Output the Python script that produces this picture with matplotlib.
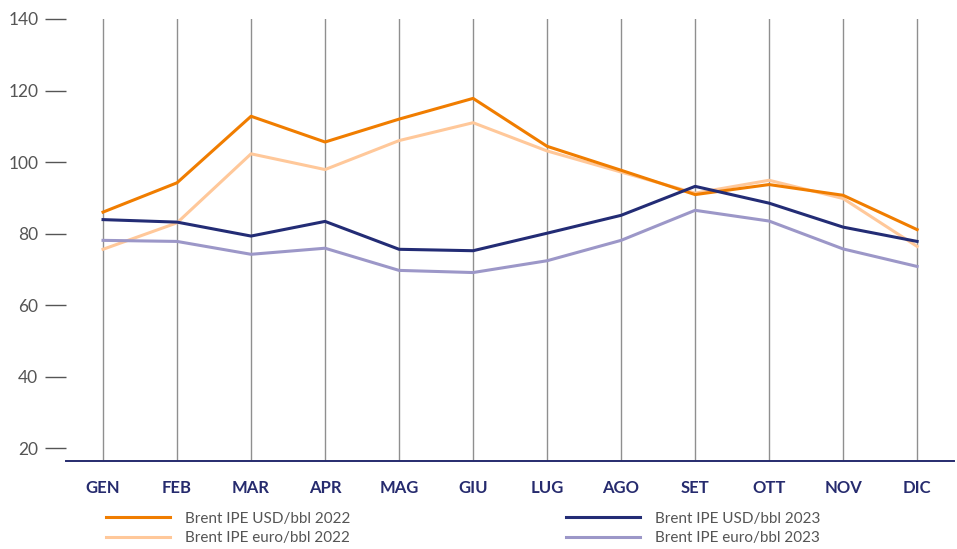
import matplotlib.pyplot as plt

plt.rcParams['font.family'] = ['Lato', 'DejaVu Sans']

mesi = ['GEN', 'FEB', 'MAR', 'APR', 'MAG', 'GIU', 'LUG', 'AGO', 'SET', 'OTT', 'NOV', 'DIC']
usd_2022 = [86.0, 94.2, 112.8, 105.6, 112.0, 117.8, 104.4, 97.7, 90.9, 93.7, 90.7, 81.1]
euro_2022 = [75.6, 83.0, 102.3, 97.9, 106.0, 111.0, 103.1, 97.2, 91.3, 94.9, 89.8, 76.4]
usd_2023 = [83.9, 83.2, 79.3, 83.4, 75.6, 75.2, 80.1, 85.1, 93.2, 88.5, 81.8, 77.8]
euro_2023 = [78.1, 77.8, 74.2, 75.9, 69.7, 69.1, 72.4, 78.1, 86.5, 83.5, 75.7, 70.8]
y_ticks = [20, 40, 60, 80, 100, 120, 140]

fig = plt.figure(figsize=(9.57, 5.49), dpi=100)
ax = fig.add_axes([0.069, 0.1603, 0.928, 0.8051])

x = range(len(mesi))
# griglia verticale sui mesi
for i in x:
    ax.axvline(i, color='#8f8f8f', lw=1.0, zorder=1)

l1, = ax.plot(x, usd_2022, color='#F07D00', lw=2.2, label='Brent IPE USD/bbl 2022', zorder=3)
l2, = ax.plot(x, euro_2022, color='#FFC89A', lw=2.2, label='Brent IPE euro/bbl 2022', zorder=2)
l3, = ax.plot(x, usd_2023, color='#232C75', lw=2.2, label='Brent IPE USD/bbl 2023', zorder=3)
l4, = ax.plot(x, euro_2023, color='#9C97C8', lw=2.2, label='Brent IPE euro/bbl 2023', zorder=2)

ax.set_xlim(-0.5, 11.5)
ax.set_ylim(16.4, 140)
ax.set_xticks(list(x))
ax.set_xticklabels(mesi, fontsize=12, fontweight='bold', color='#262B6E')
ax.tick_params(axis='x', length=0, pad=14)
ax.set_yticks(y_ticks)
ax.tick_params(axis='y', length=15, width=1.0, color='#555555', labelcolor='#555555',
               labelsize=12.5, pad=5)

for s in ['top', 'right', 'left']:
    ax.spines[s].set_visible(False)
ax.spines['bottom'].set_color('#262B6E')
ax.spines['bottom'].set_linewidth(1.4)

leg1 = fig.legend(handles=[l1, l2], loc='upper left', bbox_to_anchor=(0.111, 0.068),
                  frameon=False, fontsize=11, handlelength=4.2, handletextpad=0.98,
                  labelspacing=0.37, borderaxespad=0, borderpad=0)
leg2 = fig.legend(handles=[l3, l4], loc='upper left', bbox_to_anchor=(0.591, 0.068),
                  frameon=False, fontsize=11, handlelength=4.9, handletextpad=0.98,
                  labelspacing=0.37, borderaxespad=0, borderpad=0)
for lg in (leg1, leg2):
    for t in lg.get_texts():
        t.set_color('#555555')

fig.savefig('out.png', dpi=100)
